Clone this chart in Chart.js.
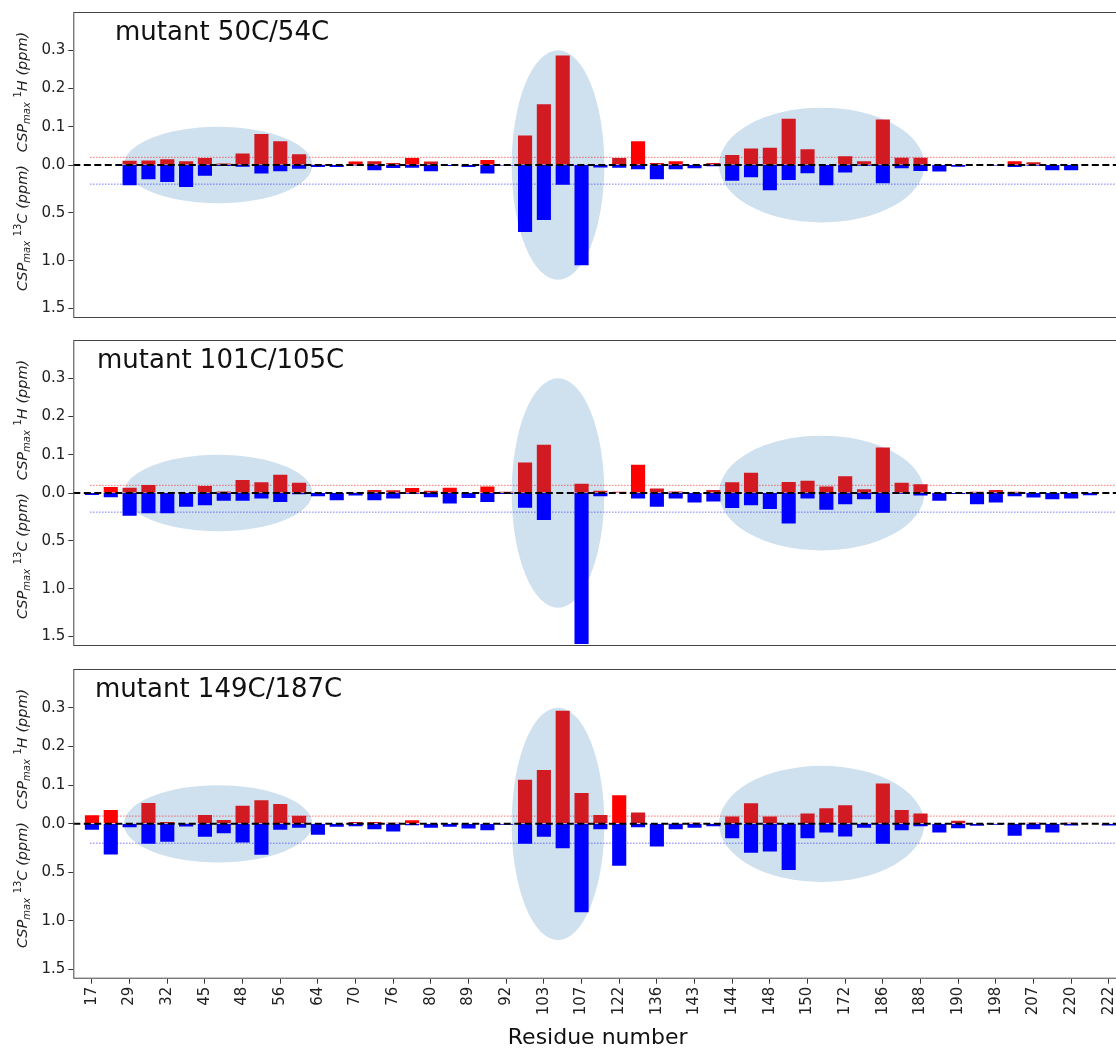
<!DOCTYPE html>
<html>
<head>
<meta charset="utf-8">
<script src="https://cdn.jsdelivr.net/npm/chart.js@4.4.1/dist/chart.umd.min.js"></script>
<style>
  html, body { margin: 0; padding: 0; overflow: hidden; background: #fff; }
  .panel { position: absolute; left: 0; }
  canvas { display: block; }
</style>
</head>
<body>
<div class="panel" style="top:0px"><canvas id="p1" width="1130" height="330"></canvas></div>
<div class="panel" style="top:328.3px"><canvas id="p2" width="1130" height="330"></canvas></div>
<div class="panel" style="top:656.6px"><canvas id="p3" width="1130" height="394"></canvas></div>
<script>
// residue labels shown on every second bar position
const residueTicks = ['17', '29', '32', '45', '48', '56', '64', '70', '76', '80', '89', '92', '103', '107',
  '122', '136', '143', '144', '148', '150', '172', '186', '188', '190', '198', '207', '220', '222'];

const hTicks = [0, 0.1, 0.2, 0.3];
const cTicks = [0.5, 1.0, 1.5];
const limitH = 0.02;   // red dotted threshold, 1H
const limitC = 0.2;    // blue dotted threshold, 13C

// mutant 50C/54C
const h1 = [0, 0, 0.011, 0.012, 0.015, 0.010, 0.018, 0.004, 0.030, 0.081, 0.062, 0.028, 0.002, 0.001,
  0.009, 0.010, 0.005, 0.018, 0.009, 0.001, 0, 0.013, 0.001, 0.077, 0.159, 0.286, 0, 0,
  0.018, 0.062, 0.005, 0.010, 0, 0.005, 0.026, 0.043, 0.045, 0.121, 0.041, 0, 0.023, 0.010,
  0.119, 0.019, 0.019, 0, 0, 0, 0, 0.010, 0.007, 0, 0, 0, 0];
const c1 = [0, 0, 0.213, 0.148, 0.179, 0.23, 0.113, 0.01, 0.017, 0.089, 0.065, 0.038, 0.02, 0.02,
  0.005, 0.055, 0.031, 0.028, 0.065, 0.01, 0.02, 0.089, 0.004, 0.70, 0.574, 0.206, 1.048, 0.027,
  0.028, 0.045, 0.148, 0.045, 0.034, 0.014, 0.165, 0.127, 0.265, 0.158, 0.086, 0.213, 0.079, 0.007,
  0.192, 0.034, 0.062, 0.069, 0.017, 0, 0.005, 0.02, 0.007, 0.055, 0.055, 0, 0];

// mutant 101C/105C
const h2 = [0, 0.016, 0.014, 0.021, 0, 0, 0.018, 0.004, 0.034, 0.028, 0.048, 0.027, 0, 0,
  0.002, 0.008, 0.007, 0.013, 0.006, 0.014, 0, 0.017, 0.003, 0.080, 0.126, 0, 0.024, 0.006,
  0.003, 0.074, 0.012, 0.004, 0, 0.008, 0.028, 0.053, 0, 0.029, 0.032, 0.017, 0.044, 0.010,
  0.119, 0.027, 0.023, 0, 0, 0.003, 0.008, 0.003, 0, 0, 0, 0, 0];
const c2 = [0.02, 0.045, 0.237, 0.213, 0.213, 0.144, 0.127, 0.082, 0.082, 0.058, 0.093, 0.014, 0.034, 0.076,
  0.027, 0.076, 0.058, 0.007, 0.045, 0.11, 0.052, 0.093, 0.01, 0.155, 0.282, 0, 1.58, 0.034,
  0, 0.058, 0.144, 0.058, 0.10, 0.089, 0.158, 0.127, 0.168, 0.32, 0.058, 0.175, 0.117, 0.065,
  0.206, 0.007, 0.027, 0.082, 0.01, 0.117, 0.10, 0.034, 0.048, 0.065, 0.058, 0.024, 0];

// mutant 149C/187C
const h3 = [0.022, 0.036, 0, 0.054, 0.005, 0.002, 0.023, 0.010, 0.047, 0.061, 0.051, 0.021, 0, 0,
  0.005, 0.005, 0.003, 0.009, 0, 0, 0, 0, 0, 0.114, 0.139, 0.292, 0.080, 0.023,
  0.074, 0.029, 0, 0.002, 0.003, 0, 0.019, 0.053, 0.019, 0, 0.027, 0.040, 0.048, 0,
  0.104, 0.036, 0.027, 0, 0.008, 0, 0, 0, 0.003, 0, 0.003, 0, 0];
const c3 = [0.062, 0.316, 0.034, 0.206, 0.186, 0.027, 0.134, 0.096, 0.192, 0.32, 0.062, 0.041, 0.113, 0.031,
  0.024, 0.055, 0.079, 0.014, 0.041, 0.031, 0.048, 0.065, 0.01, 0.206, 0.134, 0.251, 0.914, 0.055,
  0.433, 0.034, 0.234, 0.055, 0.041, 0.024, 0.148, 0.299, 0.285, 0.478, 0.148, 0.089, 0.131, 0.041,
  0.206, 0.065, 0.024, 0.089, 0.045, 0.02, 0.01, 0.124, 0.055, 0.089, 0.017, 0, 0.017];

// bars drawn in plain red instead of dark red
const bright1 = [14, 17, 21, 29, 31, 49];
const bright2 = [1, 17, 19, 21, 29];
const bright3 = [0, 1, 17, 28];

// shaded regions, in bar-index / ppm units
const regions = [
  {x: 6.7, rx: 5.0, top: 0.10, bottom: 0.40},
  {x: 24.75, rx: 2.46, top: 0.30, bottom: 1.20},
  {x: 38.75, rx: 5.45, top: 0.15, bottom: 0.60}
];

const positions = h1.map((_, j) => j);
const FONT = "'DejaVu Sans', sans-serif";
Chart.defaults.font.family = FONT;
Chart.defaults.color = '#222';

function axisLabel(ctx, cx, cy, iso, nuc) {
  const big = 'italic 14.5px ' + FONT, small = 'italic 10px ' + FONT, num = '10px ' + FONT;
  const parts = [['CSP', big, 0], ['max', small, 3], [' ', big, 0], [iso, num, -6], [nuc, big, 0], [' (ppm)', big, 0]];
  ctx.save();
  ctx.translate(cx, cy);
  ctx.rotate(-Math.PI / 2);
  let w = 0;
  parts.forEach(p => { ctx.font = p[1]; p.w = ctx.measureText(p[0]).width; w += p.w; });
  let xx = -w / 2;
  ctx.fillStyle = '#222';
  ctx.textBaseline = 'alphabetic';
  parts.forEach(p => { ctx.font = p[1]; ctx.fillText(p[0], xx, 5 + p[2]); xx += p.w; });
  ctx.restore();
}

const panelPlugin = {
  id: 'panel',
  beforeDatasetsDraw(chart) {
    const {ctx, chartArea: a, scales: {x, yH, yC}} = chart;
    ctx.save();
    ctx.beginPath();
    ctx.rect(a.left, a.top, a.width, a.height);
    ctx.clip();
    ctx.fillStyle = '#cfe0ee';
    regions.forEach(r => {
      const cx = x.getPixelForValue(r.x);
      const rx = x.getPixelForValue(r.x + r.rx) - cx;
      const t = yH.getPixelForValue(r.top), b = yC.getPixelForValue(r.bottom);
      ctx.beginPath();
      ctx.ellipse(cx, (t + b) / 2, rx, (b - t) / 2, 0, 0, Math.PI * 2);
      ctx.fill();
    });
    const x0 = x.getPixelForValue(-0.1);
    ctx.lineWidth = 0.8;
    ctx.setLineDash([1.5, 1.5]);
    ctx.strokeStyle = 'rgba(255,0,0,0.7)';
    ctx.beginPath();
    ctx.moveTo(x0, yH.getPixelForValue(limitH));
    ctx.lineTo(a.right, yH.getPixelForValue(limitH));
    ctx.stroke();
    ctx.strokeStyle = 'rgba(40,40,255,0.8)';
    ctx.beginPath();
    ctx.moveTo(x0, yC.getPixelForValue(limitC));
    ctx.lineTo(a.right, yC.getPixelForValue(limitC));
    ctx.stroke();
    ctx.restore();
  },
  afterDatasetsDraw(chart, args, opts) {
    const {ctx, chartArea: a, scales: {yH}} = chart;
    ctx.save();
    const y0 = yH.getPixelForValue(0);
    ctx.strokeStyle = '#000';
    ctx.lineWidth = 2;
    ctx.setLineDash([7, 3.5]);
    ctx.beginPath();
    ctx.moveTo(a.left, y0);
    ctx.lineTo(a.right, y0);
    ctx.stroke();
    ctx.setLineDash([]);
    ctx.lineWidth = 1;
    ctx.strokeStyle = '#444';
    ctx.strokeRect(a.left + 0.5, a.top + 0.5, a.width - 1, a.height - 1);
    ctx.fillStyle = '#111';
    ctx.font = '26px ' + FONT;
    ctx.textBaseline = 'middle';
    ctx.fillText(opts.title, opts.titleX, a.top + 21.5);
    axisLabel(ctx, 22, a.top + 80, '1', 'H');
    axisLabel(ctx, 22, a.top + 216, '13', 'C');
    ctx.restore();
  }
};

function yScale(ticks, max, reverse, weight) {
  return {
    type: 'linear', position: 'left', stack: 'csp', stackWeight: 1, weight: weight,
    min: 0, max: max, reverse: reverse,
    afterBuildTicks: s => { s.ticks = ticks.map(v => ({value: v})); },
    afterFit: s => { s.width = 73.3; },
    ticks: {callback: v => v.toFixed(1), font: {size: 15}, padding: 3, color: '#222'},
    grid: {drawOnChartArea: false, tickLength: 5, color: '#333'},
    border: {display: false}
  };
}

function makePanel(id, hVals, cVals, bright, title, titleX, showX) {
  const reds = hVals.map((v, j) => bright.includes(j) ? '#ff0000' : '#d11a22');
  return new Chart(document.getElementById(id), {
    type: 'bar',
    data: {
      labels: positions,
      datasets: [
        {label: '1H', data: hVals, yAxisID: 'yH', backgroundColor: reds, grouped: false,
          categoryPercentage: 1, barPercentage: 0.75},
        {label: '13C', data: cVals, yAxisID: 'yC', backgroundColor: '#0000ff', grouped: false,
          categoryPercentage: 1, barPercentage: 0.75}
      ]
    },
    options: {
      responsive: false,
      animation: false,
      layout: {padding: {top: 11.7, bottom: showX ? 0 : 8.3, left: 0, right: 8}},
      plugins: {
        legend: {display: false},
        tooltip: {enabled: false},
        panel: {title: title, titleX: titleX}
      },
      scales: {
        x: {
          type: 'linear', display: showX, min: -0.99, max: 54.7, offset: false,
          afterBuildTicks: s => { s.ticks = residueTicks.map((_, i) => ({value: i * 2})); },
          afterFit: s => { s.height = showX ? 72.3 : 0; },
          ticks: {callback: (v, i) => residueTicks[i], autoSkip: false, minRotation: 90, maxRotation: 90,
            font: {size: 15}, padding: 3, color: '#222'},
          grid: {drawOnChartArea: false, offset: false, tickLength: 5, color: '#333'},
          border: {display: false},
          title: {display: true, text: 'Residue number', font: {size: 22}, color: '#111', padding: 0}
        },
        yC: yScale(cTicks, 1.6, true, 0),
        yH: yScale(hTicks, 0.4, false, 1)
      }
    },
    plugins: [panelPlugin]
  });
}

makePanel('p1', h1, c1, bright1, 'mutant 50C/54C', 115, false);
makePanel('p2', h2, c2, bright2, 'mutant 101C/105C', 97, false);
makePanel('p3', h3, c3, bright3, 'mutant 149C/187C', 95, true);
</script>
</body>
</html>
